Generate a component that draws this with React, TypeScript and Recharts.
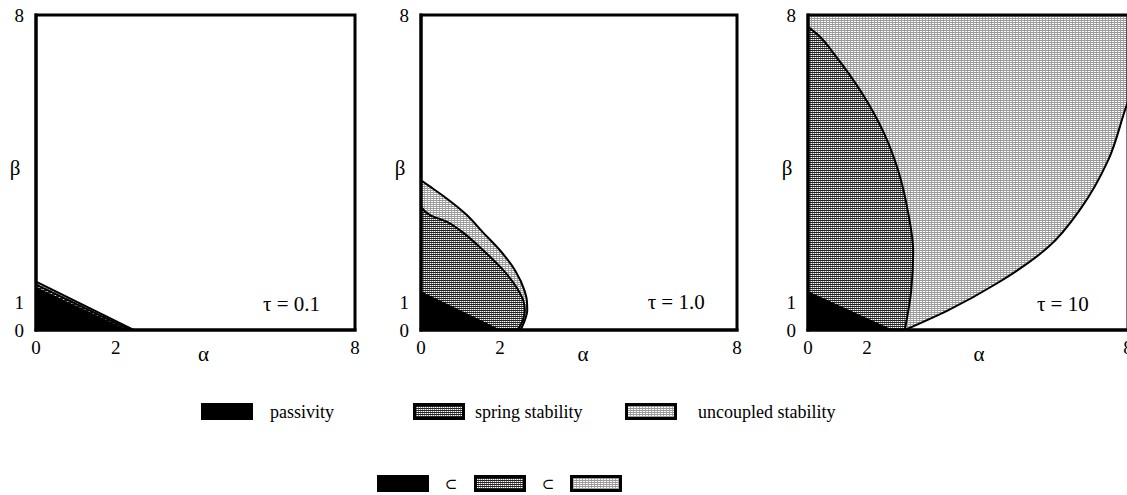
import { ComposedChart, Area, XAxis, YAxis, ReferenceDot, ReferenceArea } from "recharts"

const FONT = '"Liberation Serif", "DejaVu Serif", "Times New Roman", serif'

// axis ticks
const alphaTicks = [0, 2, 8]
const betaTicks = [0, 1, 8]

// tau = 0.1 (all three regions are thin triangles)
const pass1Beta = [0, 1.08]
const pass1Alpha = [2.28, 0]
const spring1Beta = [0, 1.15]
const spring1Alpha = [2.36, 0]
const unc1Beta = [0, 1.23]
const unc1Alpha = [2.45, 0]

// tau = 1.0
const pass2Beta = [0, 0.97]
const pass2Alpha = [2.0, 0]
const spring2Beta = [0, 0.25, 0.5, 0.75, 1, 1.5, 2, 2.5, 2.75, 2.92, 3.13]
const spring2Alpha = [2.45, 2.58, 2.63, 2.59, 2.47, 2.1, 1.6, 1.03, 0.65, 0.23, 0]
const unc2Beta = [0, 0.25, 0.5, 0.75, 1, 1.5, 2, 2.5, 2.92, 3.34, 3.64, 3.8]
const unc2Alpha = [2.52, 2.63, 2.69, 2.68, 2.62, 2.39, 2.02, 1.55, 1.16, 0.65, 0.23, 0]

// tau = 10
const pass3Beta = [0, 0.97]
const pass3Alpha = [2.1, 0]
const spring3Beta = [0, 1, 2, 3, 4, 5, 6, 7, 7.45, 7.7]
const spring3Alpha = [2.42, 2.58, 2.63, 2.5, 2.27, 1.9, 1.36, 0.66, 0.3, 0]
const unc3Beta = [0, 0.5, 1.2, 2.1, 3.1, 4.3, 5.8, 7, 8]
const unc3Alpha = [2.42, 3.5, 4.75, 6.0, 6.83, 7.5, 8.0, 8.5, 8.9]

const legendLabels = ["passivity", "spring stability", "uncoupled stability"]

type Key = "unc" | "spring" | "pass"
type Row = { b: number } & Partial<Record<Key, number>>

function buildRows(series: { key: Key; beta: number[]; alpha: number[] }[]) {
  const rows = new Map<number, Row>()
  series.forEach(({ key, beta, alpha }) => {
    beta.forEach((b, i) => {
      const row = rows.get(b) ?? { b }
      row[key] = alpha[i]
      rows.set(b, row)
    })
  })
  return [...rows.values()].sort((a, c) => a.b - c.b)
}

const rows1 = buildRows([
  { key: "unc", beta: unc1Beta, alpha: unc1Alpha },
  { key: "spring", beta: spring1Beta, alpha: spring1Alpha },
  { key: "pass", beta: pass1Beta, alpha: pass1Alpha },
])
const rows2 = buildRows([
  { key: "unc", beta: unc2Beta, alpha: unc2Alpha },
  { key: "spring", beta: spring2Beta, alpha: spring2Alpha },
  { key: "pass", beta: pass2Beta, alpha: pass2Alpha },
])
const rows3 = buildRows([
  { key: "unc", beta: unc3Beta, alpha: unc3Alpha },
  { key: "spring", beta: spring3Beta, alpha: spring3Alpha },
  { key: "pass", beta: pass3Beta, alpha: pass3Alpha },
])

function Patterns({ prefix }: { prefix: string }) {
  return (
    <>
      <pattern id={`${prefix}-spring`} width={2} height={2} patternUnits="userSpaceOnUse">
        <rect width={2} height={2} fill="#fff" />
        <rect width={2} height={1} fill="#222" />
        <rect y={1} width={1} height={1} fill="#888" />
      </pattern>
      <pattern id={`${prefix}-unc`} width={3} height={2} patternUnits="userSpaceOnUse">
        <rect width={3} height={2} fill="#fff" />
        <rect width={3} height={1} fill="#999" />
        <rect y={1} width={1} height={1} fill="#aaa" />
      </pattern>
    </>
  )
}

const Y_AXIS_W = 36
const TOP = 15
const PLOT_H = 315
const X_AXIS_H = 50
const RIGHT = 10

interface PanelProps {
  id: string
  rows: Row[]
  plotLeft: number
  plotWidth: number
  tau: string
  tauAt: [number, number]
  curve: "linear" | "monotone"
  xShift?: Record<number, number>
  alphaDx: number
}

function Panel({ id, rows, plotLeft, plotWidth, tau, tauAt, curve, xShift = {}, alphaDx }: PanelProps) {
  const width = Y_AXIS_W + plotWidth + RIGHT
  const height = TOP + PLOT_H + X_AXIS_H
  const border = { stroke: "#000", strokeWidth: 3, strokeLinecap: "square" as const }
  const yShift: Record<number, number> = { 1: 12 }

  return (
    <div style={{ position: "absolute", left: plotLeft - Y_AXIS_W, top: 0 }}>
      <ComposedChart
        layout="vertical"
        width={width}
        height={height}
        data={rows}
        margin={{ top: TOP, right: RIGHT, bottom: 0, left: 0 }}
      >
        <defs>
          <Patterns prefix={id} />
        </defs>
        <Area
          dataKey="unc"
          type={curve}
          fill={`url(#${id}-unc)`}
          fillOpacity={1}
          stroke="#000"
          strokeWidth={2}
          connectNulls
          dot={false}
          activeDot={false}
          isAnimationActive={false}
        />
        <Area
          dataKey="spring"
          type={curve}
          fill={`url(#${id}-spring)`}
          fillOpacity={1}
          stroke="#000"
          strokeWidth={2}
          connectNulls
          dot={false}
          activeDot={false}
          isAnimationActive={false}
        />
        <Area
          dataKey="pass"
          type="linear"
          fill="#000"
          fillOpacity={1}
          stroke="#000"
          strokeWidth={1}
          connectNulls
          dot={false}
          activeDot={false}
          isAnimationActive={false}
        />
        <ReferenceArea
          x1={0}
          x2={8}
          y1={0}
          y2={8}
          fill="none"
          fillOpacity={0}
          stroke="#000"
          strokeWidth={3}
          strokeOpacity={1}
          ifOverflow="visible"
        />
        <ReferenceDot
          x={tauAt[0]}
          y={tauAt[1]}
          r={0}
          fill="none"
          stroke="none"
          label={{
            value: tau,
            position: "center",
            fontSize: 21,
            fill: "#000",
            style: { fontFamily: FONT },
          }}
        />
        <XAxis
          type="number"
          domain={[0, 8]}
          allowDataOverflow
          ticks={alphaTicks}
          height={X_AXIS_H}
          axisLine={border}
          tickLine={false}
          tickSize={0}
          tickMargin={11}
          tick={(p: any) => (
            <text
              x={p.x + (xShift[p.payload.value] ?? 0)}
              y={p.y}
              dy="0.71em"
              textAnchor="middle"
              fontSize={19}
              style={{ fontFamily: FONT }}
              fill="#000"
            >
              {p.payload.value}
            </text>
          )}
          label={() => (
            <text
              x={Y_AXIS_W + plotWidth / 2 + alphaDx}
              y={TOP + PLOT_H + 31}
              textAnchor="middle"
              fontSize={21}
              style={{ fontFamily: FONT }}
              fill="#000"
            >
              α
            </text>
          )}
        />
        <YAxis
          type="number"
          dataKey="b"
          domain={[0, 8]}
          allowDataOverflow
          reversed
          ticks={betaTicks}
          width={Y_AXIS_W}
          axisLine={border}
          tickLine={false}
          tickSize={0}
          tickMargin={12}
          tick={(p: any) => (
            <text
              x={p.x}
              y={p.y + (yShift[p.payload.value] ?? 0)}
              dy="0.35em"
              textAnchor="end"
              fontSize={19}
              style={{ fontFamily: FONT }}
              fill="#000"
            >
              {p.payload.value}
            </text>
          )}
          label={() => (
            <text
              x={Y_AXIS_W - 21}
              y={TOP + PLOT_H / 2 + 2}
              textAnchor="middle"
              fontSize={21}
              style={{ fontFamily: FONT }}
              fill="#000"
            >
              β
            </text>
          )}
        />
      </ComposedChart>
    </div>
  )
}

function Swatch({ x, y, kind }: { x: number; y: number; kind: Key }) {
  if (kind === "pass") return <rect x={x} y={y} width={52} height={17} fill="#000" />
  return (
    <rect
      x={x + 1.5}
      y={y + 1.5}
      width={49}
      height={14}
      fill={`url(#leg-${kind})`}
      stroke="#000"
      strokeWidth={3}
    />
  )
}

function LegendBlock() {
  const textStyle = { fontSize: 18, fill: "#000", style: { fontFamily: FONT } }
  return (
    <svg width={1127} height={115} style={{ position: "absolute", left: 0, top: 380 }}>
      <defs>
        <Patterns prefix="leg" />
      </defs>
      <Swatch x={201} y={23} kind="pass" />
      <text x={270} y={38} {...textStyle}>{legendLabels[0]}</text>
      <Swatch x={413} y={23} kind="spring" />
      <text x={475} y={38} {...textStyle}>{legendLabels[1]}</text>
      <Swatch x={625} y={23} kind="unc" />
      <text x={698} y={38} {...textStyle}>{legendLabels[2]}</text>

      <Swatch x={377} y={95} kind="pass" />
      <text x={451} y={109} textAnchor="middle" {...textStyle} fontSize={15}>⊂</text>
      <Swatch x={474} y={95} kind="spring" />
      <text x={548} y={109} textAnchor="middle" {...textStyle} fontSize={15}>⊂</text>
      <Swatch x={570} y={95} kind="unc" />
    </svg>
  )
}

export default function App() {
  return (
    <div
      style={{
        position: "absolute",
        left: 0,
        top: 0,
        width: 1127,
        height: 495,
        overflow: "hidden",
        background: "#fff",
      }}
    >
      <Panel id="p1" rows={rows1} plotLeft={36} plotWidth={319} tau="τ = 0.1" tauAt={[6.41, 0.67]} curve="linear" alphaDx={8} />
      <Panel id="p2" rows={rows2} plotLeft={421} plotWidth={316} tau="τ = 1.0" tauAt={[6.46, 0.72]} curve="monotone" alphaDx={4} />
      <Panel
        id="p3"
        rows={rows3}
        plotLeft={808}
        plotWidth={320}
        tau="τ = 10"
        tauAt={[6.37, 0.68]}
        curve="monotone"
        xShift={{ 2: -21 }}
        alphaDx={11}
      />
      <LegendBlock />
    </div>
  )
}
